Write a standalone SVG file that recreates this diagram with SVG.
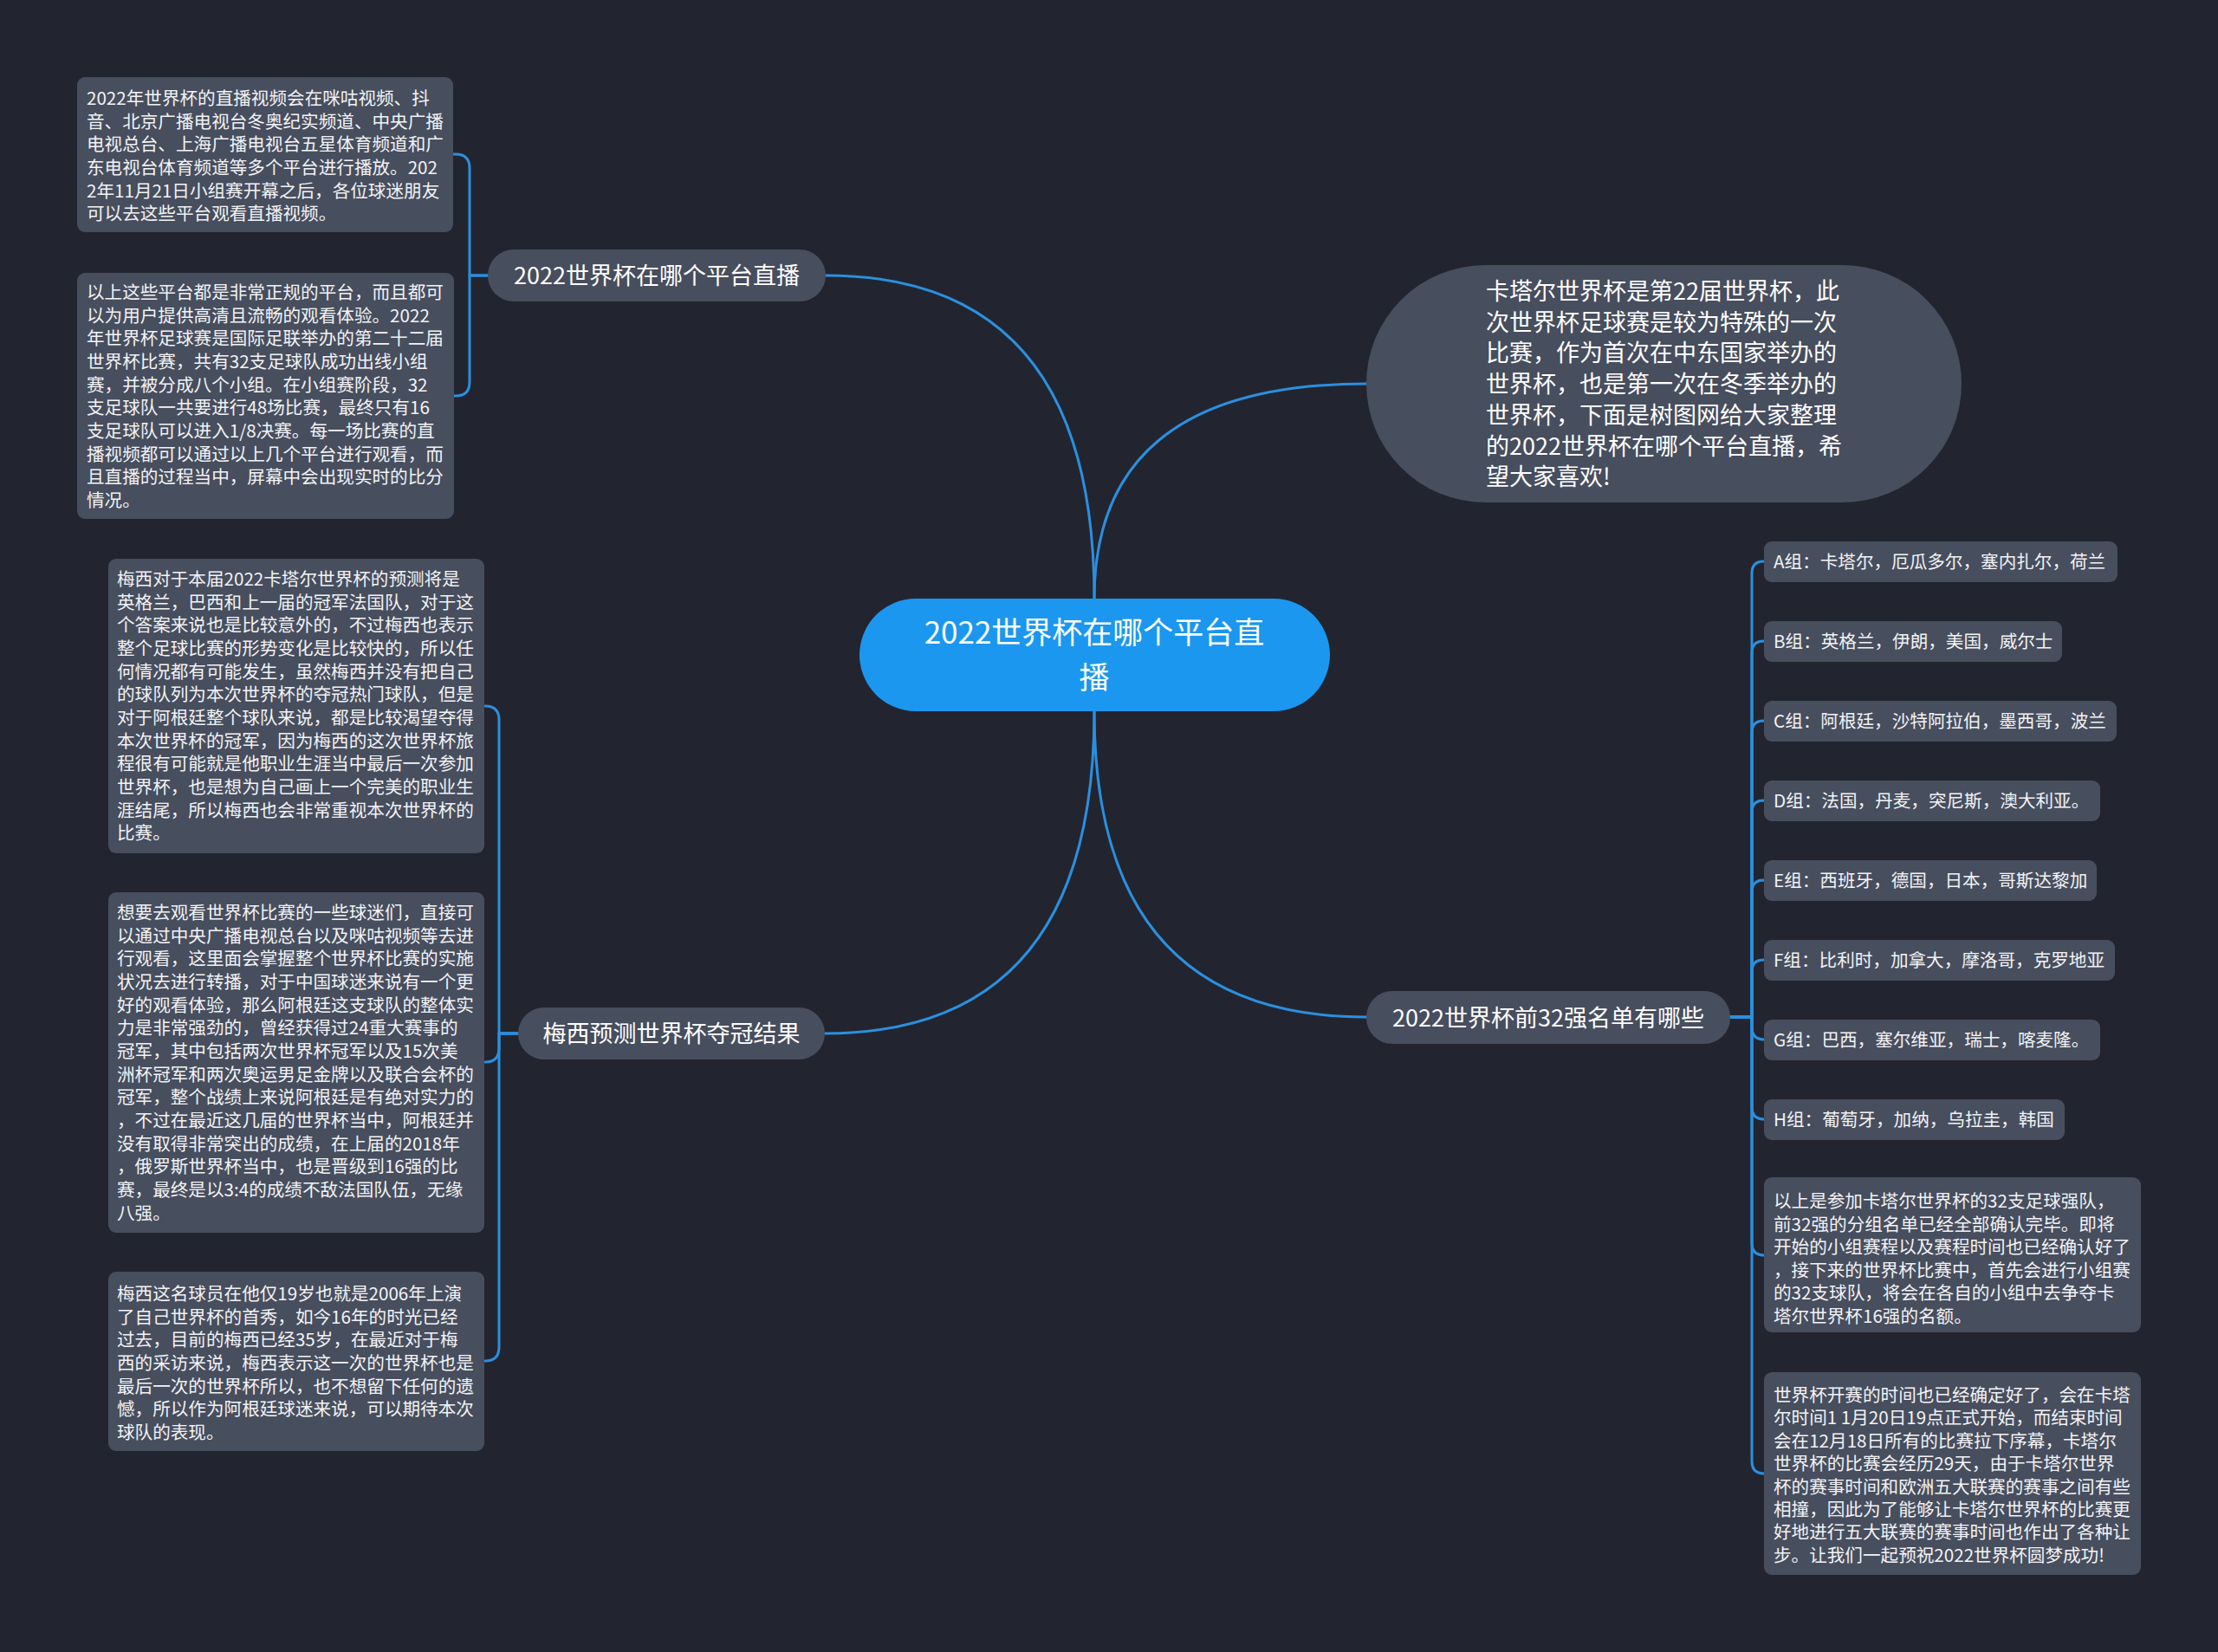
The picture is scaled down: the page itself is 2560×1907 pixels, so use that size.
<svg xmlns="http://www.w3.org/2000/svg" width="2560" height="1907" viewBox="0 0 2560 1907">
<style>
.t{font-family:"Noto Sans CJK SC","Noto Sans",sans-serif;fill:#ffffff}
.p{font-size:20.6px;fill:#f2f3f5}
.b{font-size:27px}
.c{font-size:35px;text-anchor:middle}
.m{text-anchor:middle}
.node{fill:#474e5e}
.leaf{fill:#474e5e}
.con{fill:none;stroke:#2b8fe0;stroke-width:3;stroke-linecap:round;stroke-linejoin:round}
</style>
<rect x="0" y="0" width="2560" height="1907" fill="#22252f"/>
<g id="connectors">
<path class="con" d="M1263 691 Q1263 318 953 318"/>
<path class="con" d="M1263 691 Q1263 443 1577 443"/>
<path class="con" d="M1263 821 Q1263 1193 952 1193"/>
<path class="con" d="M1263 821 Q1263 1174 1577 1174"/>
<path class="con" d="M563 318 L542 318 L542 194 Q542 178 526 178 L523 178"/>
<path class="con" d="M563 318 L542 318 L542 441 Q542 457 526 457 L523 457"/>
<path class="con" d="M598 1193 L576 1193 L576 831 Q576 815 560 815"/>
<path class="con" d="M598 1193 L576 1193 L576 1210 Q576 1226 560 1226"/>
<path class="con" d="M598 1193 L576 1193 L576 1555 Q576 1571 560 1571"/>
<path class="con" d="M1997 1174 L2022 1174 L2022 662 Q2022 648 2036 648"/>
<path class="con" d="M1997 1174 L2022 1174 L2022 754 Q2022 740 2036 740"/>
<path class="con" d="M1997 1174 L2022 1174 L2022 846 Q2022 832 2036 832"/>
<path class="con" d="M1997 1174 L2022 1174 L2022 938 Q2022 924 2036 924"/>
<path class="con" d="M1997 1174 L2022 1174 L2022 1030 Q2022 1016 2036 1016"/>
<path class="con" d="M1997 1174 L2022 1174 L2022 1122 Q2022 1108 2036 1108"/>
<path class="con" d="M1997 1174 L2022 1174 L2022 1186 Q2022 1200 2036 1200"/>
<path class="con" d="M1997 1174 L2022 1174 L2022 1278 Q2022 1292 2036 1292"/>
<path class="con" d="M1997 1174 L2022 1174 L2022 1435 Q2022 1449 2036 1449"/>
<path class="con" d="M1997 1174 L2022 1174 L2022 1687 Q2022 1701 2036 1701"/>
</g>
<g id="center">
<rect x="992" y="691" width="543" height="130" rx="65" fill="#1b97ef"/>
<text class="t c"><tspan x="1263" y="743">2022世界杯在哪个平台直</tspan><tspan x="1263" y="795">播</tspan></text>
</g>
<g id="intro">
<rect x="1577" y="306" width="687" height="274" rx="137" class="node"/>
<text class="t b"><tspan x="1715" y="346">卡塔尔世界杯是第22届世界杯，此</tspan><tspan x="1715" y="381.7">次世界杯足球赛是较为特殊的一次</tspan><tspan x="1715" y="417.4">比赛，作为首次在中东国家举办的</tspan><tspan x="1715" y="453.1">世界杯，也是第一次在冬季举办的</tspan><tspan x="1715" y="488.8">世界杯，下面是树图网给大家整理</tspan><tspan x="1715" y="524.5">的2022世界杯在哪个平台直播，希</tspan><tspan x="1715" y="560.2">望大家喜欢!</tspan></text>
</g>
<g id="branch-platform">
<rect x="563" y="288" width="390" height="60" rx="30" class="node"/>
<text class="t b m" x="758" y="328">2022世界杯在哪个平台直播</text>
</g>
<g id="branch-messi">
<rect x="598" y="1163" width="354" height="60" rx="30" class="node"/>
<text class="t b m" x="775" y="1203">梅西预测世界杯夺冠结果</text>
</g>
<g id="branch-groups">
<rect x="1577" y="1144" width="420" height="61" rx="30" class="node"/>
<text class="t b m" x="1787" y="1185">2022世界杯前32强名单有哪些</text>
</g>
<g id="leaf-platform-1">
<rect x="89" y="89" width="434" height="179" rx="9" class="leaf"/>
<text class="t p"><tspan x="100" y="121">2022年世界杯的直播视频会在咪咕视频、抖</tspan><tspan x="100" y="147.7">音、北京广播电视台冬奥纪实频道、中央广播</tspan><tspan x="100" y="174.3">电视总台、上海广播电视台五星体育频道和广</tspan><tspan x="100" y="201">东电视台体育频道等多个平台进行播放。202</tspan><tspan x="100" y="227.7">2年11月21日小组赛开幕之后，各位球迷朋友</tspan><tspan x="100" y="254.3">可以去这些平台观看直播视频。</tspan></text>
</g>
<g id="leaf-platform-2">
<rect x="89" y="315" width="435" height="284" rx="9" class="leaf"/>
<text class="t p"><tspan x="100" y="345">以上这些平台都是非常正规的平台，而且都可</tspan><tspan x="100" y="371.7">以为用户提供高清且流畅的观看体验。2022</tspan><tspan x="100" y="398.3">年世界杯足球赛是国际足联举办的第二十二届</tspan><tspan x="100" y="425">世界杯比赛，共有32支足球队成功出线小组</tspan><tspan x="100" y="451.7">赛，并被分成八个小组。在小组赛阶段，32</tspan><tspan x="100" y="478.3">支足球队一共要进行48场比赛，最终只有16</tspan><tspan x="100" y="505">支足球队可以进入1/8决赛。每一场比赛的直</tspan><tspan x="100" y="531.7">播视频都可以通过以上几个平台进行观看，而</tspan><tspan x="100" y="558.3">且直播的过程当中，屏幕中会出现实时的比分</tspan><tspan x="100" y="585">情况。</tspan></text>
</g>
<g id="leaf-messi-1">
<rect x="125" y="645" width="434" height="340" rx="9" class="leaf"/>
<text class="t p"><tspan x="135" y="676">梅西对于本届2022卡塔尔世界杯的预测将是</tspan><tspan x="135" y="702.7">英格兰，巴西和上一届的冠军法国队，对于这</tspan><tspan x="135" y="729.3">个答案来说也是比较意外的，不过梅西也表示</tspan><tspan x="135" y="756">整个足球比赛的形势变化是比较快的，所以任</tspan><tspan x="135" y="782.7">何情况都有可能发生，虽然梅西并没有把自己</tspan><tspan x="135" y="809.3">的球队列为本次世界杯的夺冠热门球队，但是</tspan><tspan x="135" y="836">对于阿根廷整个球队来说，都是比较渴望夺得</tspan><tspan x="135" y="862.7">本次世界杯的冠军，因为梅西的这次世界杯旅</tspan><tspan x="135" y="889.3">程很有可能就是他职业生涯当中最后一次参加</tspan><tspan x="135" y="916">世界杯，也是想为自己画上一个完美的职业生</tspan><tspan x="135" y="942.7">涯结尾，所以梅西也会非常重视本次世界杯的</tspan><tspan x="135" y="969.3">比赛。</tspan></text>
</g>
<g id="leaf-messi-2">
<rect x="125" y="1030" width="434" height="393" rx="9" class="leaf"/>
<text class="t p"><tspan x="135" y="1061">想要去观看世界杯比赛的一些球迷们，直接可</tspan><tspan x="135" y="1087.7">以通过中央广播电视总台以及咪咕视频等去进</tspan><tspan x="135" y="1114.3">行观看，这里面会掌握整个世界杯比赛的实施</tspan><tspan x="135" y="1141">状况去进行转播，对于中国球迷来说有一个更</tspan><tspan x="135" y="1167.7">好的观看体验，那么阿根廷这支球队的整体实</tspan><tspan x="135" y="1194.3">力是非常强劲的，曾经获得过24重大赛事的</tspan><tspan x="135" y="1221">冠军，其中包括两次世界杯冠军以及15次美</tspan><tspan x="135" y="1247.7">洲杯冠军和两次奥运男足金牌以及联合会杯的</tspan><tspan x="135" y="1274.3">冠军，整个战绩上来说阿根廷是有绝对实力的</tspan><tspan x="135" y="1301">，不过在最近这几届的世界杯当中，阿根廷并</tspan><tspan x="135" y="1327.7">没有取得非常突出的成绩，在上届的2018年</tspan><tspan x="135" y="1354.3">，俄罗斯世界杯当中，也是晋级到16强的比</tspan><tspan x="135" y="1381">赛，最终是以3:4的成绩不敌法国队伍，无缘</tspan><tspan x="135" y="1407.7">八强。</tspan></text>
</g>
<g id="leaf-messi-3">
<rect x="125" y="1468" width="434" height="207" rx="9" class="leaf"/>
<text class="t p"><tspan x="135" y="1501">梅西这名球员在他仅19岁也就是2006年上演</tspan><tspan x="135" y="1527.7">了自己世界杯的首秀，如今16年的时光已经</tspan><tspan x="135" y="1554.3">过去，目前的梅西已经35岁，在最近对于梅</tspan><tspan x="135" y="1581">西的采访来说，梅西表示这一次的世界杯也是</tspan><tspan x="135" y="1607.7">最后一次的世界杯所以，也不想留下任何的遗</tspan><tspan x="135" y="1634.3">憾，所以作为阿根廷球迷来说，可以期待本次</tspan><tspan x="135" y="1661">球队的表现。</tspan></text>
</g>
<g id="leaf-group-a">
<rect x="2036" y="625" width="408" height="47" rx="9" class="leaf"/>
<text class="t p" x="2047" y="656">A组：卡塔尔，厄瓜多尔，塞内扎尔，荷兰</text>
</g>
<g id="leaf-group-b">
<rect x="2036" y="717" width="344" height="47" rx="9" class="leaf"/>
<text class="t p" x="2047" y="748">B组：英格兰，伊朗，美国，威尔士</text>
</g>
<g id="leaf-group-c">
<rect x="2036" y="809" width="407" height="47" rx="9" class="leaf"/>
<text class="t p" x="2047" y="840">C组：阿根廷，沙特阿拉伯，墨西哥，波兰</text>
</g>
<g id="leaf-group-d">
<rect x="2036" y="901" width="388" height="47" rx="9" class="leaf"/>
<text class="t p" x="2047" y="932">D组：法国，丹麦，突尼斯，澳大利亚。</text>
</g>
<g id="leaf-group-e">
<rect x="2036" y="993" width="384" height="47" rx="9" class="leaf"/>
<text class="t p" x="2047" y="1024">E组：西班牙，德国，日本，哥斯达黎加</text>
</g>
<g id="leaf-group-f">
<rect x="2036" y="1085" width="405" height="47" rx="9" class="leaf"/>
<text class="t p" x="2047" y="1116">F组：比利时，加拿大，摩洛哥，克罗地亚</text>
</g>
<g id="leaf-group-g">
<rect x="2036" y="1177" width="388" height="47" rx="9" class="leaf"/>
<text class="t p" x="2047" y="1208">G组：巴西，塞尔维亚，瑞士，喀麦隆。</text>
</g>
<g id="leaf-group-h">
<rect x="2036" y="1269" width="347" height="47" rx="9" class="leaf"/>
<text class="t p" x="2047" y="1300">H组：葡萄牙，加纳，乌拉圭，韩国</text>
</g>
<g id="leaf-groups-summary">
<rect x="2036" y="1359" width="435" height="179" rx="9" class="leaf"/>
<text class="t p"><tspan x="2047" y="1394">以上是参加卡塔尔世界杯的32支足球强队，</tspan><tspan x="2047" y="1420.5">前32强的分组名单已经全部确认完毕。即将</tspan><tspan x="2047" y="1447">开始的小组赛程以及赛程时间也已经确认好了</tspan><tspan x="2047" y="1473.5">，接下来的世界杯比赛中，首先会进行小组赛</tspan><tspan x="2047" y="1500">的32支球队，将会在各自的小组中去争夺卡</tspan><tspan x="2047" y="1526.5">塔尔世界杯16强的名额。</tspan></text>
</g>
<g id="leaf-groups-schedule">
<rect x="2036" y="1584" width="435" height="234" rx="9" class="leaf"/>
<text class="t p"><tspan x="2047" y="1618">世界杯开赛的时间也已经确定好了，会在卡塔</tspan><tspan x="2047" y="1644.4">尔时间1 1月20日19点正式开始，而结束时间</tspan><tspan x="2047" y="1670.8">会在12月18日所有的比赛拉下序幕，卡塔尔</tspan><tspan x="2047" y="1697.2">世界杯的比赛会经历29天，由于卡塔尔世界</tspan><tspan x="2047" y="1723.6">杯的赛事时间和欧洲五大联赛的赛事之间有些</tspan><tspan x="2047" y="1750">相撞，因此为了能够让卡塔尔世界杯的比赛更</tspan><tspan x="2047" y="1776.4">好地进行五大联赛的赛事时间也作出了各种让</tspan><tspan x="2047" y="1802.8">步。让我们一起预祝2022世界杯圆梦成功!</tspan></text>
</g>
</svg>
